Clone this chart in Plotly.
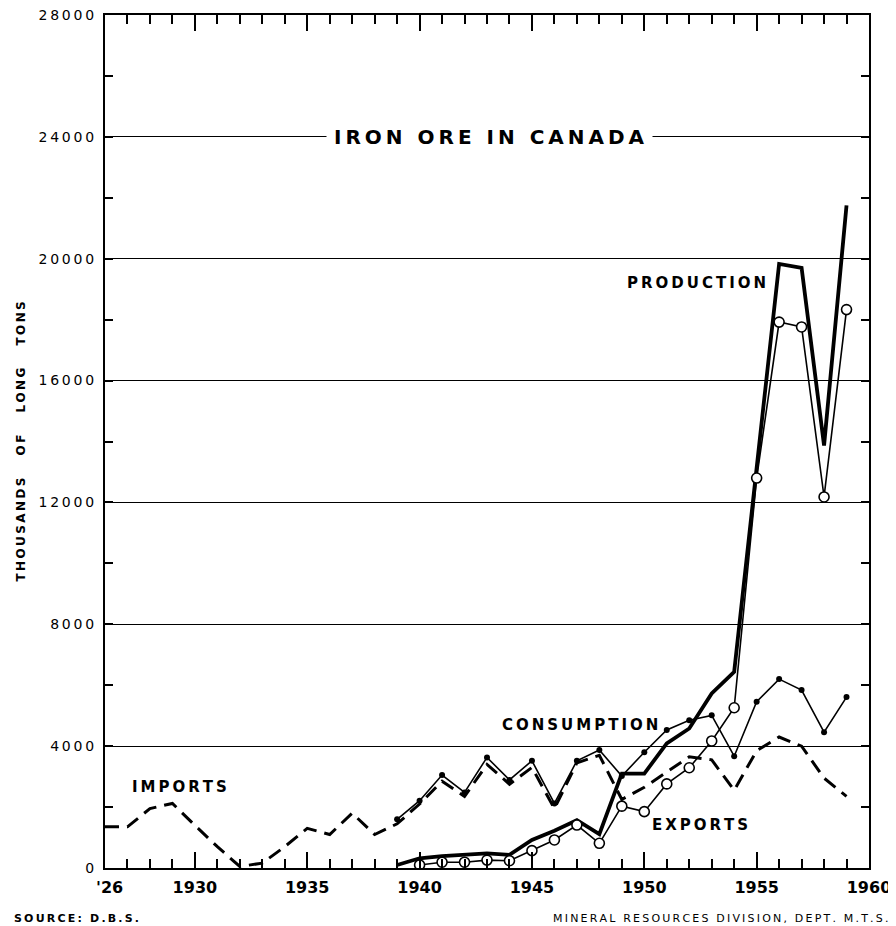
import plotly.graph_objects as go

# ---- data (thousands of long tons) ----
imp_years = list(range(1926, 1960))
imports = [1350, 1350, 1950, 2120, 1400, 700, 50, 160, 700, 1300,
           1100, 1800, 1100, 1450, 2100, 2850, 2350, 3400, 2750, 3300,
           1950, 3450, 3700, 2250, 2650, 3150, 3650, 3550, 2550, 3850,
           4300, 4000, 2950, 2350]

con_years = list(range(1939, 1960))
consumption = [1600, 2210, 3050, 2480, 3630, 2890, 3520, 2120, 3520, 3870,
               3020, 3800, 4530, 4850, 5010, 3670, 5460, 6200, 5840, 4460, 5610]

prod_years = list(range(1939, 1960))
production = [100, 320, 390, 430, 480, 430, 920, 1220, 1570, 1110,
              3100, 3100, 4090, 4580, 5730, 6440, 13200, 19830, 19700, 13870, 21750]

exp_years = list(range(1940, 1960))
exports = [100, 190, 190, 260, 240, 570, 920, 1410, 810, 2030,
           1850, 2760, 3290, 4170, 5260, 12800, 17920, 17760, 12180, 18330]

y_tickvals = [0, 4000, 8000, 12000, 16000, 20000, 24000, 28000]


def spaced(s, sep="\u2009"):
    return sep.join(s)


FONT = "DejaVu Sans"

fig = go.Figure()

fig.add_trace(go.Scatter(x=imp_years, y=imports, mode="lines",
                         line=dict(color="black", width=3, dash="14px,8px"),
                         name="Imports"))
fig.add_trace(go.Scatter(x=con_years, y=consumption, mode="lines+markers",
                         line=dict(color="black", width=1.6),
                         marker=dict(color="black", size=6),
                         name="Consumption"))
fig.add_trace(go.Scatter(x=prod_years, y=production, mode="lines",
                         line=dict(color="black", width=3.8),
                         name="Production"))
fig.add_trace(go.Scatter(x=exp_years, y=exports, mode="lines+markers",
                         line=dict(color="black", width=1.6),
                         marker=dict(color="white", size=10,
                                     line=dict(color="black", width=1.6)),
                         name="Exports"))

label_font = dict(family=FONT, size=15, color="black", weight="bold")
fig.add_annotation(x=1943.1, y=24000, text=spaced("IRON ORE IN CANADA"),
                   showarrow=False, bgcolor="white", borderpad=7,
                   font=dict(family=FONT, size=20, color="black", weight="bold"))
fig.add_annotation(x=1955.5, y=19200, text=spaced("PRODUCTION"), showarrow=False,
                   xanchor="right", font=label_font)
fig.add_annotation(x=1950.7, y=4700, text=spaced("CONSUMPTION"), showarrow=False,
                   xanchor="right", font=label_font)
fig.add_annotation(x=1950.25, y=1420, text=spaced("EXPORTS"), showarrow=False,
                   xanchor="left", font=label_font)
fig.add_annotation(x=1927.1, y=2660, text=spaced("IMPORTS"), showarrow=False,
                   xanchor="left", font=label_font)
# first year label sits under the axis origin
fig.add_annotation(x=1926, y=0, text="'26", showarrow=False, yanchor="top",
                   yshift=-8, xshift=4,
                   font=dict(family=FONT, size=16, color="black", weight="bold"))

fig.add_annotation(x=0.0, y=0.5, xref="paper", yref="paper", xshift=-94,
                   text=spaced("THOUSANDS   OF   LONG   TONS"), textangle=-90,
                   showarrow=False,
                   font=dict(family=FONT, size=12, color="black", weight="bold"))
fig.add_annotation(x=0.0, y=0.0, xref="paper", yref="paper", xshift=-93, yshift=-50,
                   text=spaced("SOURCE: D.B.S."), showarrow=False,
                   xanchor="left", yanchor="middle",
                   font=dict(family=FONT, size=11, color="black", weight="bold"))
fig.add_annotation(x=1.0, y=0.0, xref="paper", yref="paper", xshift=21, yshift=-50,
                   text=spaced("MINERAL RESOURCES DIVISION, DEPT. M.T.S."),
                   showarrow=False, xanchor="right", yanchor="middle",
                   font=dict(family=FONT, size=11, color="black"))

# the page adds an 8px body margin, so the figure is 8px smaller
fig.update_layout(
    width=888, height=918,
    margin=dict(l=97, r=27, t=7, b=58),
    plot_bgcolor="white", paper_bgcolor="white",
    showlegend=False,
    font=dict(family=FONT, color="black"),
)

fig.update_xaxes(
    range=[1926, 1960], tickmode="linear", tick0=1925, dtick=5,
    ticks="inside", ticklen=16, tickwidth=2, tickcolor="black",
    minor=dict(tickmode="linear", tick0=1926, dtick=1, ticks="inside",
               ticklen=9, tickwidth=2, tickcolor="black", showgrid=False),
    showline=True, linecolor="black", linewidth=2, mirror="allticks",
    showgrid=False, zeroline=False, automargin=False,
    tickformat="d", ticklabelstandoff=4,
    tickfont=dict(family=FONT, size=16, color="black", weight="bold"),
)

fig.update_yaxes(
    range=[0, 28000], tickvals=y_tickvals,
    ticktext=[spaced(str(v)) for v in y_tickvals],
    ticks="inside", ticklen=0, tickcolor="black",
    minor=dict(dtick=2000, tick0=0, ticks="inside", ticklen=8,
               tickwidth=1.5, tickcolor="black", showgrid=False),
    showline=True, linecolor="black", linewidth=2, mirror="ticks",
    showgrid=True, gridcolor="black", gridwidth=1.4, zeroline=False,
    automargin=False, ticklabeloverflow="allow",
    tickfont=dict(family=FONT, size=14, color="black"),
    ticklabelstandoff=6,
)

fig.write_html("out.html")
